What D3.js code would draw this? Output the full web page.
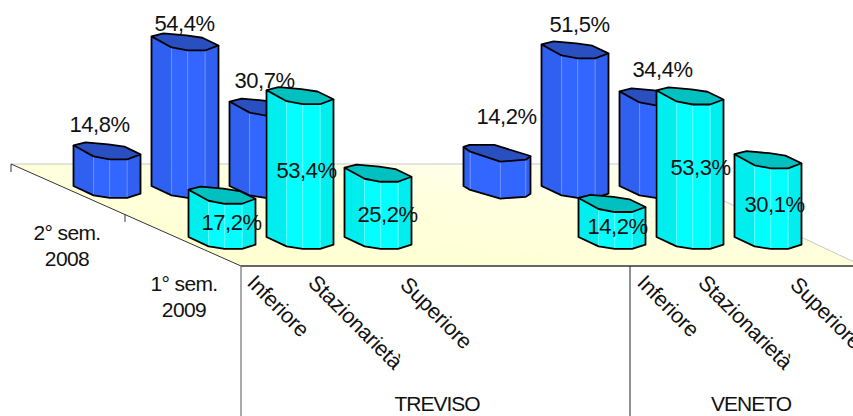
<!DOCTYPE html>
<html><head><meta charset="utf-8">
<script src="https://cdn.jsdelivr.net/npm/d3@7/dist/d3.min.js"></script>
<style>html,body{margin:0;padding:0;background:#fff}svg{display:block}text{font-family:"Liberation Sans",Arial,sans-serif;fill:#111}</style>
</head><body><svg id="c" width="853" height="416"></svg>
<script>
const regions = ["TREVISO", "VENETO"];
const categories = ["Inferiore", "Stazionarietà", "Superiore"];
const periods = ["2° sem. 2008", "1° sem. 2009"];
const valuesTreviso2008 = [14.8, 54.4, 30.7];
const valuesVeneto2008 = [14.2, 51.5, 34.4];
const valuesTreviso2009 = [17.2, 53.4, 25.2];
const valuesVeneto2009 = [14.2, 53.3, 30.1];

const svg = d3.select("#c");
const W = 853, H = 416;

// scales
const slot = d3.scaleLinear().domain([0, 1]).range([73.5, 151.5]);
const depthX = d3.scaleLinear().domain([0, 1]).range([0, 115]);
const depthY = d3.scaleLinear().domain([0, 1]).range([186, 237]);
const hScale = d3.scaleLinear().domain([0, 100]).range([0, 275]);
const groupSlots = 5, barW = 67, bottomFlatten = 0.85;

// floor
const floorY = d3.scaleLinear().domain([0, 1]).range([164, 266]);
const defs = svg.append("defs");
const g = defs.append("linearGradient").attr("id", "floor")
  .attr("x1", 0.1).attr("y1", 1).attr("x2", 0.95).attr("y2", 0);
g.append("stop").attr("offset", 0).attr("stop-color", "#ffffcf");
g.append("stop").attr("offset", 0.55).attr("stop-color", "#ffffdd");
g.append("stop").attr("offset", 1).attr("stop-color", "#fffff6");
const line = d3.line();
const floorPts = [[11, floorY(0)], [645, floorY(0)], [853, floorY(0.955)], [853, floorY(1)], [241, floorY(1)]];
svg.append("path").attr("d", line(floorPts) + "Z").attr("fill", "url(#floor)");
svg.append("path").attr("d", line([[11, floorY(0)], [645, floorY(0)], [853, floorY(0.955)]]))
  .attr("fill", "none").attr("stroke", "#c8c8c8").attr("stroke-width", 1);
svg.append("path").attr("d", line([[11, floorY(0)], [241, floorY(1)]]))
  .attr("fill", "none").attr("stroke", "#333").attr("stroke-width", 1);
svg.append("path").attr("d", line([[241, floorY(1)], [W, floorY(1)]]))
  .attr("fill", "none").attr("stroke", "#666").attr("stroke-width", 2);
[241, 630].forEach(x => svg.append("line").attr("x1", x).attr("x2", x)
  .attr("y1", floorY(1)).attr("y2", H).attr("stroke", x === 241 ? "#555" : "#222").attr("stroke-width", 1));
[[11, 164], [125, 214]].forEach(([x, y]) => svg.append("line")
  .attr("x1", x).attr("x2", x).attr("y1", y).attr("y2", y + 8).attr("stroke", "#333"));

// bar outlines, in units of bar width
const shapeDefault = {
  front: [[0, 0], [0.3, 0.165], [0.54, 0.21], [0.8, 0.21], [1, 0.135]],
  back: [[0.76, 0.02], [0.52, -0.015], [0.18, -0.045]]
};
const shapeFlat = {
  front: [[0, 0], [0.1, 0.07], [0.55, 0.22], [0.93, 0.19], [1, 0.135]],
  back: [[0.46, -0.03], [0.09, -0.03]]
};
const palettes = [
  { top: "#2a4fc0", side: ["#3060f0", "#3366ff", "#3366ff", "#3060f0"], rule: "#6a8cff" },
  { top: "#00c0c0", side: ["#00eeee", "#00ffff", "#00ffff", "#00eeee"], rule: "#66fbfb" }
];
// label nudges relative to the bar's left top corner
const labelPos = [
  [[26, -13], [33, -5], [35, -14], [43, -23], [38, -12], [43, -14]],
  [[43, 40], [40, 88], [43, 54], [39, 36], [44, 85], [40, 58]]
];

const rows = [
  [valuesTreviso2008, valuesVeneto2008],
  [valuesTreviso2009, valuesVeneto2009]
];
rows.forEach((row, r) => {
  row.forEach((vals, gi) => vals.forEach((v, c) => {
    const x0 = slot(c + gi * groupSlots) + depthX(r);
    const base = depthY(r);
    const h = hScale(v);
    const yTop = base - h;
    const pal = palettes[r];
    const s = (r === 0 && gi === 1 && c === 0) ? shapeFlat : shapeDefault;
    const b = svg.append("g");
    const P = (p, y) => [x0 + p[0] * barW, y + p[1] * barW];
    const Q = (p) => [x0 + p[0] * barW, base + p[1] * barW * bottomFlatten];
    // facets
    d3.pairs(s.front).forEach(([a, c2], i) => {
      b.append("path").attr("d", line([P(a, yTop), P(c2, yTop), Q(c2), Q(a)]) + "Z")
        .attr("fill", pal.side[i % pal.side.length]);
    });
    s.front.slice(1, -1).forEach(p => {
      const q = P(p, 0)[0];
      b.append("line").attr("x1", q).attr("x2", q)
        .attr("y1", P(p, yTop)[1]).attr("y2", Q(p)[1])
        .attr("stroke", pal.rule).attr("stroke-width", 1);
    });
    // outline of body
    const n = s.front.length - 1;
    const outline = [P(s.front[0], yTop), Q(s.front[0])]
      .concat(s.front.slice(1).map(Q))
      .concat([P(s.front[n], yTop)]);
    b.append("path").attr("d", line(outline)).attr("fill", "none")
      .attr("stroke", "#000").attr("stroke-width", 1.8).attr("stroke-linejoin", "round");
    // top
    const top = s.front.concat(s.back).map(p => P(p, yTop));
    b.append("path").attr("d", line(top) + "Z").attr("fill", pal.top)
      .attr("stroke", "#000").attr("stroke-width", 1.8).attr("stroke-linejoin", "round");
    // label
    const lp = labelPos[r][gi * 3 + c];
    b.append("text").attr("x", x0 + lp[0]).attr("y", yTop + lp[1])
      .attr("text-anchor", "middle").attr("font-size", 22).attr("letter-spacing", -0.45)
      .text(v.toFixed(1).replace(".", ",") + "%");
  }));
});

// period labels
periods.forEach((p, i) => {
  const parts = [p.slice(0, p.lastIndexOf(" ")), p.slice(p.lastIndexOf(" ") + 1)];
  const cx = [67, 184][i], y0 = [240, 291][i];
  parts.forEach((t, k) => svg.append("text").attr("x", cx).attr("y", y0 + k * 26)
    .attr("text-anchor", "middle").attr("font-size", 21).attr("letter-spacing", -0.6).text(t));
});

// rotated categories
const catX = [246, 307, 399];
regions.forEach((reg, gi) => {
  categories.forEach((c, i) => {
    svg.append("text")
      .attr("transform", `translate(${catX[i] + gi * 390},${[284, 284, 286][i]}) rotate(45)`)
      .attr("font-size", 21.5).attr("letter-spacing", -0.25).text(c);
  });
  svg.append("text").attr("x", [437, 751][gi]).attr("y", 411)
    .attr("text-anchor", "middle").attr("font-size", 21).attr("letter-spacing", -1).text(reg);
});
</script></body></html>
